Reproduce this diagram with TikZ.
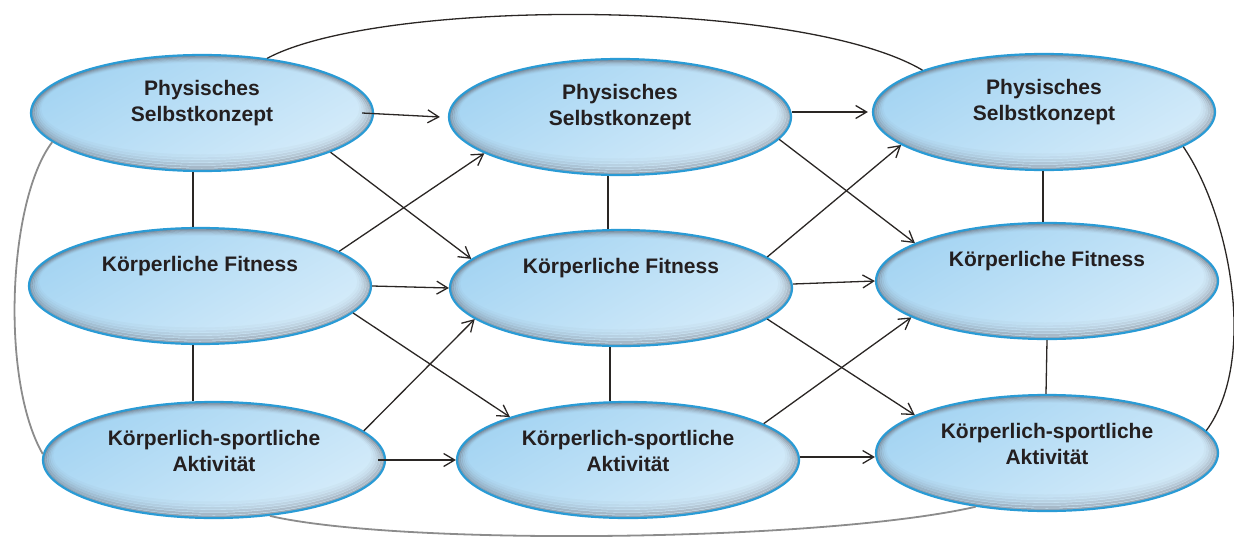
\documentclass[tikz,border=0pt]{standalone}
\usepackage{fontspec}
\setmainfont{Liberation Sans}
\usetikzlibrary{shapes.geometric,arrows.meta}
\definecolor{ovaltop}{HTML}{A4D4F2}
\definecolor{ovalbot}{HTML}{D6ECFA}
\definecolor{ovalrim}{HTML}{2A9BD5}
\definecolor{rimshade}{HTML}{6A6B75}
\definecolor{linkcol}{HTML}{2A2624}
\definecolor{loopgray}{HTML}{8C8C8C}
\definecolor{txtcol}{HTML}{241F20}

\begin{document}
\begin{tikzpicture}[x=1pt,y=-1pt,
  oval/.style={ellipse, minimum width=342pt, minimum height=116pt, inner sep=0pt,
     draw=ovalrim, line width=2.2pt, top color=ovaltop, bottom color=ovalbot, shading angle=30,
     path picture={
       % inner shadow, heavier towards the lower right
       \foreach \d/\o in {1/0.5,3/0.36,5/0.25,7/0.16,9/0.09,11/0.04}{
         \draw[rimshade, opacity=\o, line width=2.2pt]
           ([shift={(-0.15*\d,-0.4*\d)}]path picture bounding box.center)
           ellipse [x radius=171-\d, y radius=58-\d];
       }}},
  lbl/.style={font=\fontsize{21}{26}\selectfont\bfseries, text=txtcol, align=center, inner sep=0pt},
  link/.style={draw=linkcol, line width=1.3pt},
  arr/.style={link, -{Straight Barb[length=11pt,width=13pt]}},
  loopdark/.style={draw=linkcol, line width=1.3pt},
  looplight/.style={draw=loopgray, line width=1.8pt},
]
\useasboundingbox (0,0) rectangle (1234,538);

% ovals, one column per measurement wave
\node[oval] (ps1) at (202,113) {};
\node[oval] (kf1) at (200,286) {};
\node[oval] (ka1) at (214,460) {};
\node[oval] (ps2) at (620,117) {};
\node[oval] (kf2) at (621,288) {};
\node[oval] (ka2) at (628,460) {};
\node[oval] (ps3) at (1044,112) {};
\node[oval] (kf3) at (1047,281) {};
\node[oval] (ka3) at (1047,453) {};

% labels sit in the upper part of each oval
\node[lbl] (tps1) at ([yshift=10pt]ps1.center) {Physisches\\Selbstkonzept};
\node[lbl] (tkf1) at ([yshift=20pt]kf1.center) {Körperliche Fitness};
\node[lbl] (tka1) at ([yshift=9pt]ka1.center) {Körperlich-sportliche\\Aktivität};
\node[lbl] (tps2) at ([yshift=10pt]ps2.center) {Physisches\\Selbstkonzept};
\node[lbl] (tkf2) at ([yshift=20pt]kf2.center) {Körperliche Fitness};
\node[lbl] (tka2) at ([yshift=9pt]ka2.center) {Körperlich-sportliche\\Aktivität};
\node[lbl] (tps3) at ([yshift=10pt]ps3.center) {Physisches\\Selbstkonzept};
\node[lbl] (tkf3) at ([yshift=20pt]kf3.center) {Körperliche Fitness};
\node[lbl] (tka3) at ([yshift=9pt]ka3.center) {Körperlich-sportliche\\Aktivität};

% correlations within a wave
\draw[link] ([xshift=-9pt]ps1.south) -- ([xshift=-7pt]kf1.north);
\draw[link] ([xshift=-7pt]kf1.south) -- ([xshift=-21pt]ka1.north);
\draw[link] ([xshift=-12pt]ps2.south) -- ([xshift=-13pt]kf2.north);
\draw[link] ([xshift=-11pt]kf2.south) -- ([xshift=-18pt]ka2.north);
\draw[link] ([xshift=-1pt]ps3.south) -- ([xshift=-4pt]kf3.north);
\draw[link] (kf3.south) -- ([xshift=-1pt]ka3.north);

% stability paths
\draw[arr] ([xshift=-12pt]ps1.east) -- ([xshift=-8pt]ps2.west);
\draw[arr] (ps2.east |- ps3.west) -- ([xshift=-4pt]ps3.west);
\draw[arr] (kf1.east) -- (kf2.west);
\draw[arr] ([yshift=4pt]kf2.east) -- (kf3.west);
\draw[arr] ([xshift=-8pt]ka1.east) -- (ka2.west);
\draw[arr] ([yshift=3pt]ka2.east) -- ([yshift=-4pt]ka3.west);

% cross-lagged paths
\draw[arr] (ps1.-17) -- (kf2.169);
\draw[arr] (kf1.14) -- (ps2.195);
\draw[arr] (kf1.-10) -- (ka2.160);
\draw[arr] (ka1.11) -- (kf2.192);
\draw[arr] (ps2.-8) -- (kf3.164);
\draw[arr] (kf2.12) -- (ps3.193);
\draw[arr] (kf2.-12) -- (ka3.164);
\draw[arr] (ka2.15) -- (kf3.195);

% long-range links
\draw[loopdark] (ps1.40) .. controls (380,-2) and (800,-2) .. (ps3.161);
\draw[loopdark] (ps3.-14) .. controls (1230,215) and (1258,360) .. (ka3.8);
\draw[looplight] (ps1.191) .. controls (8,200) and (0,380) .. (ka1.178);
\draw[looplight] (ka1.-45) .. controls (400,546) and (820,542) .. (ka3.217);
\end{tikzpicture}
\end{document}
